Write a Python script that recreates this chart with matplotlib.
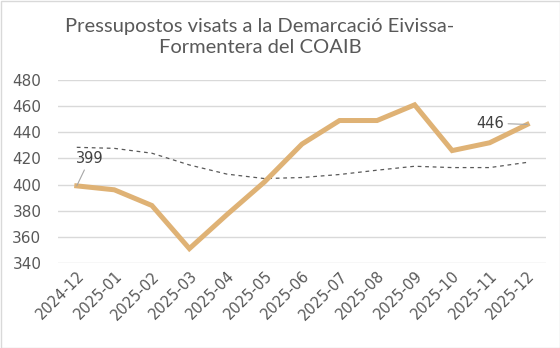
import matplotlib
matplotlib.use("Agg")
import matplotlib.pyplot as plt
from matplotlib.patches import Rectangle

months = ["2024-12", "2025-01", "2025-02", "2025-03", "2025-04", "2025-05", "2025-06",
          "2025-07", "2025-08", "2025-09", "2025-10", "2025-11", "2025-12"]
budgets = [399, 396, 384, 351, 377, 402, 431, 449, 449, 461, 426, 432, 446]
trend = [428.5, 427.7, 424, 415, 408, 404.6, 405.4, 407.7, 411, 414, 413, 413, 417]
y_ticks = [340, 360, 380, 400, 420, 440, 460, 480]
title = "Pressupostos visats a la Demarcació Eivissa-\nFormentera del COAIB"

plt.rcParams['font.family'] = ['DejaVu Sans']
txt = "#595959"

fig = plt.figure(figsize=(5.6, 3.48), dpi=100)
ax = fig.add_axes([58/560, 1-263/348, (546-58)/560, (263-80)/348])

x = list(range(len(months)))
ax.plot(x, trend, color="#595959", lw=0.9, ls=(0, (3, 3)), zorder=2)
ax.plot(x, budgets, color="#DFB275", lw=3.6, solid_joinstyle="miter", zorder=3)

ax.set_xlim(-0.5, len(months) - 0.5)
ax.set_ylim(y_ticks[0], y_ticks[-1])
ax.set_yticks(y_ticks)
ax.set_xticks(x)
ax.set_xticklabels(months, rotation=45, ha="right", rotation_mode="anchor", fontsize=10.5, color=txt)
ax.tick_params(axis="y", labelsize=11, labelcolor=txt, length=0, pad=12)
ax.tick_params(axis="x", length=0, pad=4)
ax.grid(axis="y", color="#D9D9D9", lw=1)
ax.set_axisbelow(True)
for s in ax.spines.values():
    s.set_visible(False)

# data labels
ax.annotate(str(budgets[0]), xy=(x[0], budgets[0]), xytext=(x[0] + 0.35, budgets[0] + 21),
            ha="center", va="center", fontsize=10.5, color="#404040",
            arrowprops=dict(arrowstyle="-", color="#A6A6A6", lw=0.8, shrinkA=1, shrinkB=0), zorder=4)
ax.annotate(str(budgets[-1]), xy=(x[-1], budgets[-1]), xytext=(x[-1] - 0.99, budgets[-1] + 1),
            ha="center", va="center", fontsize=10.5, color="#404040",
            arrowprops=dict(arrowstyle="-", color="#A6A6A6", lw=0.8, shrinkA=1, shrinkB=0), zorder=4)

fig.text(260/560, 1 - 37/348, title, ha="center", va="center", fontsize=14.5, color=txt,
         family=['Lato', 'DejaVu Sans'], linespacing=1.3)

fig.patches.append(Rectangle((0.5/560, 0.5/348), 1 - 1/560, 1 - 1/348, transform=fig.transFigure,
                             fill=False, edgecolor="#D9D9D9", lw=1))

fig.savefig("out.png", dpi=100, facecolor="white")
